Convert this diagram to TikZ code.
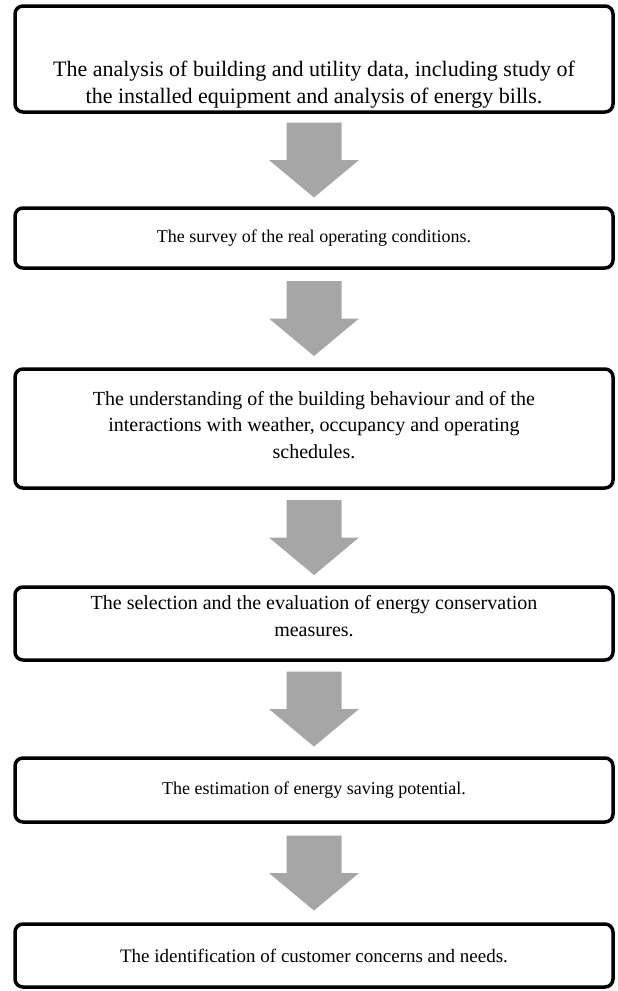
\documentclass[tikz,border=0pt]{standalone}
\usepackage{fontspec}
\setmainfont{Liberation Serif}
\definecolor{arrowgrey}{HTML}{A6A6A6}
\usetikzlibrary{positioning, calc}

\newcommand{\stagefont}[1]{\fontsize{#1}{26.5}\selectfont}

\begin{document}
\begin{tikzpicture}[x=1pt, y=1pt, node distance=99pt,
    stage/.style={draw=black, line width=3.5pt, rounded corners=8pt, fill=white, minimum width=598pt, align=center, inner sep=0pt, outer sep=0pt}]
        \useasboundingbox (0,0) rectangle (618,-991);
        \node[stage, minimum height=106pt, anchor=north, font=\stagefont{22}] (analysis) at (314,-6) {\mbox{}\\[40pt]The analysis of building and utility data, including study of\\the installed equipment and analysis of energy bills.};
        \node[stage, minimum height=60pt, below=96pt of analysis, font=\stagefont{18}] (survey) {The survey of the real operating conditions.};
        \node[stage, minimum height=119pt, below=101pt of survey, font=\stagefont{20}] (understand) {The understanding of the building behaviour and of the\\interactions with weather, occupancy and operating\\schedules.\\[-19pt]\mbox{}};
        \node[stage, minimum height=73pt, below=of understand, font=\stagefont{20}] (select) {The selection and the evaluation of energy conservation\\measures.\\[-11pt]\mbox{}};
        \node[stage, minimum height=64pt, below=98pt of select, font=\stagefont{18}] (estimate) {The estimation of energy saving potential.};
        \node[stage, minimum height=63pt, below=102pt of estimate, font=\stagefont{19}] (identify) {The identification of customer concerns and needs.};
        % block arrows between the stages
        \foreach \from/\to in {analysis/survey, survey/understand, understand/select, select/estimate, estimate/identify}
          \fill[arrowgrey] let \p1=(\from.south), \p2=(\to.north), \n1={(\y1+\y2)/2} in
            (\x1-27.5pt,\n1+37.5pt) -- (\x1+27.5pt,\n1+37.5pt) -- (\x1+27.5pt,\n1) -- (\x1+45pt,\n1)
            -- (\x1,\n1-37.5pt) -- (\x1-45pt,\n1) -- (\x1-27.5pt,\n1) -- cycle;
      \end{tikzpicture}
\end{document}
